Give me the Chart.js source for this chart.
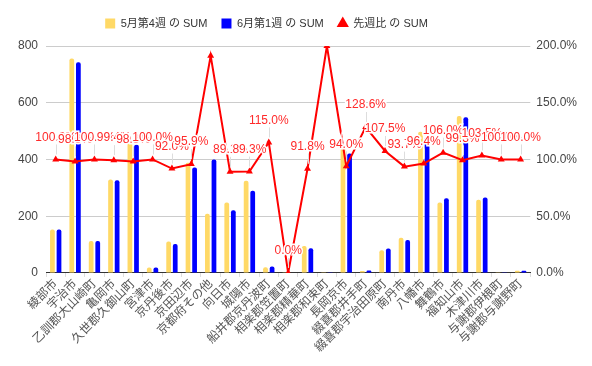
<!DOCTYPE html>
<html>
<head>
<meta charset="utf-8">
<script src="https://cdn.jsdelivr.net/npm/chart.js@4/dist/chart.umd.min.js"></script>
<style>
  html, body { margin: 0; padding: 0; background: #fff; }
  #wrap { width: 592px; height: 366px; }
</style>
</head>
<body>
<div id="wrap"><canvas id="chartCanvas" width="592" height="366"></canvas></div>
<script>
// 市町村
var shichoson = ['綾部市', '宇治市', '乙訓郡大山崎町', '亀岡市', '久世郡久御山町', '宮津市', '京丹後市',
    '京田辺市', '京都府その他', '向日市', '城陽市', '船井郡京丹波町', '相楽郡笠置町', '相楽郡精華町',
    '相楽郡和束町', '長岡京市', '綴喜郡井手町', '綴喜郡宇治田原町', '南丹市', '八幡市', '舞鶴市',
    '福知山市', '木津川市', '与謝郡伊根町', '与謝郡与謝野町'];
var may4 = [153, 756, 113, 329, 460, 19, 111, 388, 209, 248, 325, 20, 1, 95, 1, 448, 7, 80, 124, 498, 248, 553, 258, 1, 8];
var jun1 = [153, 743, 113, 327, 452, 19, 102, 372, 400, 221, 290, 23, 0, 87, 2, 421, 9, 86, 116, 480, 263, 549, 266, 1, 8];
var senshuhi = [100.0, 98.3, 100.0, 99.4, 98.3, 100.0, 92.0, 95.9, 191.4, 89.1, 89.3, 115.0, 0.0, 91.8,
    200.0, 94.0, 128.6, 107.5, 93.7, 96.4, 106.0, 99.3, 103.5, 100.0, 100.0];
var leftTicks = [0, 200, 400, 600, 800];
var rightTicks = [0, 50, 100, 150, 200];

var fontFam = "Arial, 'Liberation Sans', 'Noto Sans CJK JP', sans-serif";

// 凡例の下に少し余白、少し左寄せ
var legendMargin = {
    id: 'legendMargin',
    beforeInit: function (chart) {
        var fit = chart.legend.fit;
        chart.legend.fit = function () {
            fit.bind(chart.legend)();
            this.height += 7;
        };
    },
    afterLayout: function (chart) {
        chart.legend.left -= 30;
        chart.legend.right -= 30;
    }
};

// 折れ線のラベル (白フチ付き)
var lineLabels = {
    id: 'lineLabels',
    afterDatasetsDraw: function (chart) {
        var ctx = chart.ctx;
        var meta = chart.getDatasetMeta(2);
        var top = chart.chartArea.top;
        ctx.save();
        ctx.strokeStyle = '#dddddd';
        ctx.lineWidth = 1;
        meta.data.forEach(function (pt) {
            if (pt.y - 22 < top) return;
            ctx.beginPath();
            ctx.moveTo(Math.round(pt.x) + 0.5, pt.y - 5);
            ctx.lineTo(Math.round(pt.x) + 0.5, pt.y - 15);
            ctx.stroke();
        });
        ctx.font = '12px ' + fontFam;
        ctx.textAlign = 'center';
        ctx.textBaseline = 'middle';
        meta.data.forEach(function (pt, i) {
            if (pt.y - 22 < top) return;
            var txt = senshuhi[i].toFixed(1) + '%';
            ctx.lineWidth = 3;
            ctx.strokeStyle = '#ffffff';
            ctx.strokeText(txt, pt.x, pt.y - 22);
            ctx.fillStyle = '#ff2a2a';
            ctx.fillText(txt, pt.x, pt.y - 22);
        });
        ctx.restore();
    }
};

var ctx = document.getElementById('chartCanvas');
new Chart(ctx, {
    type: 'bar',
    data: {
        labels: shichoson,
        datasets: [{
            label: '5月第4週 の SUM',
            data: may4,
            backgroundColor: '#ffd966',
            borderRadius: 2,
            borderSkipped: 'bottom',
            categoryPercentage: 0.68,
            barPercentage: 0.72,
            pointStyle: 'rect',
            yAxisID: 'y'
        }, {
            label: '6月第1週 の SUM',
            data: jun1,
            backgroundColor: '#0000ff',
            borderRadius: 2,
            borderSkipped: 'bottom',
            categoryPercentage: 0.68,
            barPercentage: 0.72,
            pointStyle: 'rect',
            yAxisID: 'y'
        }, {
            type: 'line',
            label: '先週比 の SUM',
            data: senshuhi,
            borderColor: '#ff0000',
            backgroundColor: '#ff0000',
            borderWidth: 2,
            pointStyle: 'triangle',
            pointRadius: 4,
            pointBorderWidth: 0,
            tension: 0,
            order: -1,
            yAxisID: 'y1'
        }]
    },
    options: {
        responsive: false,
        animation: false,
        layout: { padding: { top: 4, right: 9, left: 10, bottom: 11 } },
        plugins: {
            legend: {
                position: 'top',
                labels: {
                    usePointStyle: true,
                    boxWidth: 10,
                    boxHeight: 10,
                    padding: 14,
                    color: '#333',
                    font: { family: fontFam, size: 11 },
                    sort: function (a, b) { return a.datasetIndex - b.datasetIndex; }
                }
            },
            tooltip: { enabled: false }
        },
        scales: {
            x: {
                grid: { drawOnChartArea: false, drawTicks: true, tickLength: 4, color: '#dddddd' },
                border: { display: true, color: '#333333', width: 1 },
                ticks: {
                    autoSkip: false,
                    minRotation: 45,
                    maxRotation: 45,
                    padding: 0,
                    color: '#555',
                    font: { family: fontFam, size: 12 }
                }
            },
            y: {
                position: 'left',
                min: 0,
                max: 800,
                afterBuildTicks: function (axis) {
                    axis.ticks = leftTicks.map(function (v) { return { value: v }; });
                },
                grid: { color: '#cccccc', drawTicks: false },
                border: { display: false },
                ticks: {
                    padding: 8,
                    color: '#444',
                    font: { family: fontFam, size: 12 }
                }
            },
            y1: {
                position: 'right',
                min: 0,
                max: 200,
                afterBuildTicks: function (axis) {
                    axis.ticks = rightTicks.map(function (v) { return { value: v }; });
                },
                grid: { drawOnChartArea: false, drawTicks: false },
                border: { display: false },
                ticks: {
                    padding: 6,
                    color: '#444',
                    font: { family: fontFam, size: 12 },
                    callback: function (v) { return v.toFixed(1) + '%'; }
                }
            }
        }
    },
    plugins: [legendMargin, lineLabels]
});
</script>
</body>
</html>
